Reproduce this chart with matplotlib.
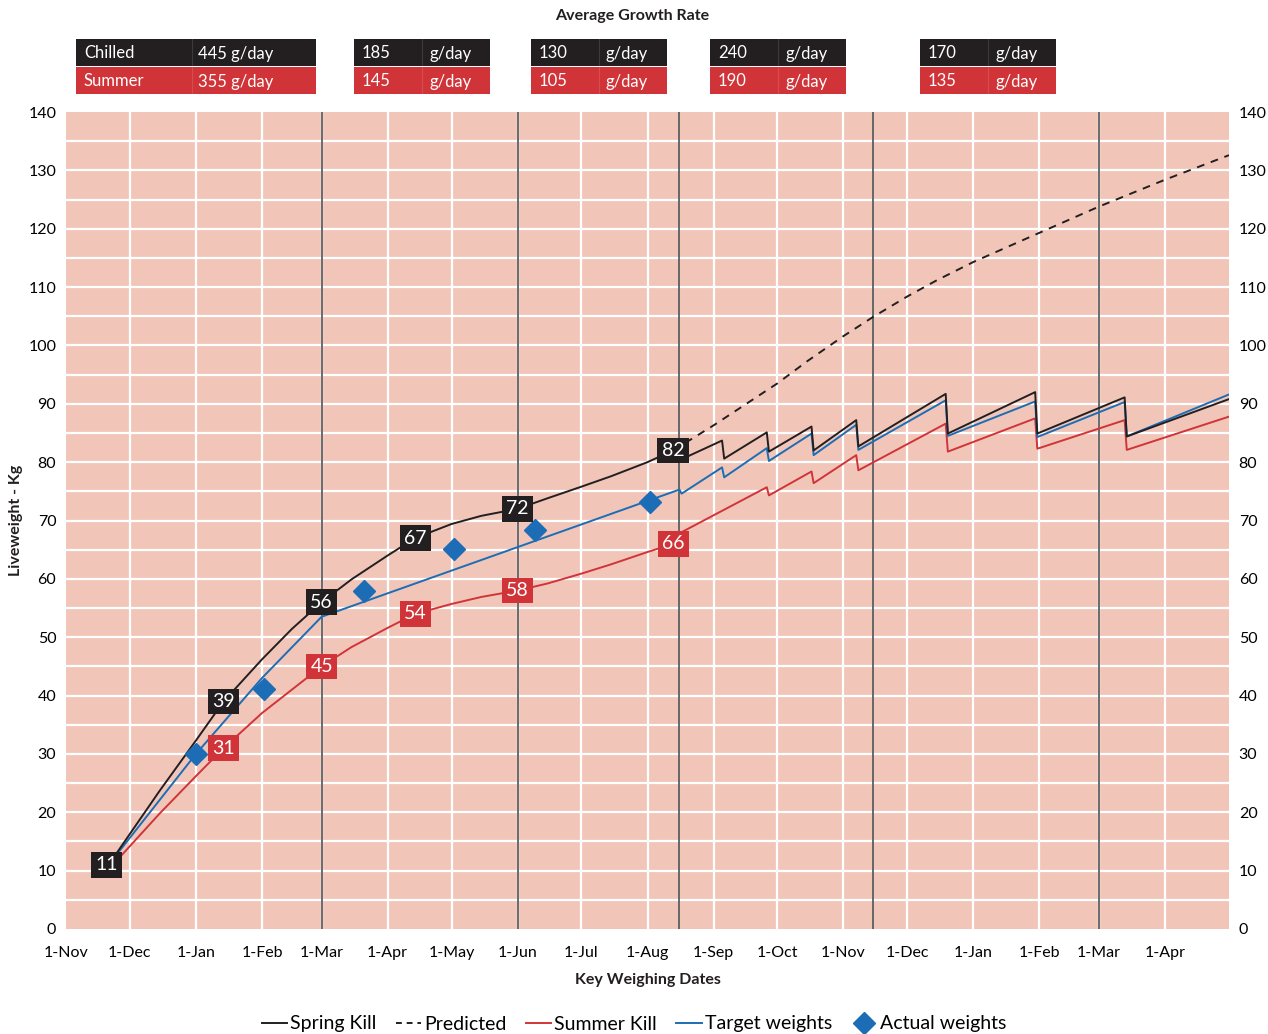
import matplotlib
matplotlib.use("Agg")
import matplotlib.pyplot as plt
import matplotlib.dates as mdates
import numpy as np
from matplotlib.lines import Line2D
from matplotlib.patches import Rectangle

plt.rcParams["font.family"] = ["Lato", "DejaVu Sans"]

BLACK = "#231f20"
RED = "#d13438"
BLUE = "#1c6db5"
BG = "#f1c6b9"
KEYLINE = "#5c5f62"

# Spring kill (chilled) liveweight, kg
spring_dates = ["2013-11-21", "2013-12-01", "2013-12-15", "2014-01-01", "2014-01-14",
                "2014-02-01", "2014-02-15", "2014-03-01", "2014-03-15", "2014-04-01",
                "2014-04-14", "2014-05-01", "2014-05-15", "2014-06-01", "2014-06-15",
                "2014-07-01", "2014-07-15", "2014-08-01", "2014-08-13", "2014-08-16",
                "2014-08-17", "2014-09-05", "2014-09-06", "2014-09-26", "2014-09-27",
                "2014-10-17", "2014-10-18", "2014-11-07", "2014-11-08", "2014-12-19",
                "2014-12-20", "2015-01-30", "2015-01-31", "2015-03-13", "2015-03-14",
                "2015-05-01"]
spring_kg = [11, 16.3, 23.7, 32.3, 39,
             46.2, 51.4, 56, 59.9, 64.0,
             67, 69.4, 70.8, 72, 73.8,
             75.8, 77.6, 80.0, 82, 82.6,
             80.5, 83.7, 80.6, 85.1, 81.8,
             86.1, 82.0, 87.2, 82.7, 91.7,
             84.9, 92.0, 84.9, 91.1, 84.4,
             90.8]

# Predicted spring kill continuation
pred_dates = ["2014-08-13", "2014-09-01", "2014-10-01", "2014-10-15", "2014-11-01",
              "2014-11-15", "2014-12-01", "2014-12-15", "2015-01-01", "2015-02-01",
              "2015-03-01", "2015-04-01", "2015-05-01"]
pred_kg = [82, 86.3, 93.5, 97.3, 101.6,
           104.9, 108.4, 111.2, 114.3, 119.3,
           123.8, 128.4, 132.6]

# Summer kill liveweight, kg
summer_dates = ["2013-11-23", "2013-12-01", "2013-12-15", "2014-01-01", "2014-01-14",
                "2014-02-01", "2014-02-15", "2014-03-01", "2014-03-15", "2014-04-01",
                "2014-04-14", "2014-05-01", "2014-05-15", "2014-06-01", "2014-06-15",
                "2014-07-01", "2014-07-15", "2014-08-01", "2014-08-13", "2014-08-17",
                "2014-09-26", "2014-09-27", "2014-10-17", "2014-10-18", "2014-11-07",
                "2014-11-08", "2014-12-19", "2014-12-20", "2015-01-30", "2015-01-31",
                "2015-03-13", "2015-03-14", "2015-05-01"]
summer_kg = [11, 14.2, 19.8, 26.2, 31,
             37.0, 41.0, 45, 48.3, 51.6,
             54, 55.7, 56.9, 58, 59.2,
             60.9, 62.5, 64.6, 66, 68,
             75.7, 74.3, 78.4, 76.4, 81.2,
             78.6, 86.6, 81.8, 87.5, 82.3,
             87.2, 82.1, 87.8]

# Target weights, kg
target_dates = ["2013-11-21", "2014-01-01", "2014-02-01", "2014-03-01", "2014-08-16",
                "2014-08-17", "2014-09-05", "2014-09-06", "2014-09-26", "2014-09-27",
                "2014-10-17", "2014-10-18", "2014-11-07", "2014-11-08", "2014-12-19",
                "2014-12-20", "2015-01-30", "2015-01-31", "2015-03-13", "2015-03-14",
                "2015-05-01"]
target_kg = [11, 30, 43, 53.5, 75.3,
             74.6, 79.1, 77.4, 82.4, 80.2,
             84.9, 81.2, 86.4, 82.1, 90.6,
             84.5, 90.4, 84.3, 90.3, 84.4,
             91.6]

# Actual weighings
actual_dates = ["2014-01-01", "2014-02-02", "2014-03-21", "2014-05-02", "2014-06-09", "2014-08-02"]
actual_kg = [30, 41.1, 58, 65.1, 68.3, 73.2]

# Labelled values at key weighing dates
key_dates = ["2013-11-20", "2014-01-14", "2014-03-01", "2014-04-14", "2014-06-01", "2014-08-13"]
spring_labels = [11, 39, 56, 67, 72, 82]
summer_key_dates = ["2014-01-14", "2014-03-01", "2014-04-14", "2014-06-01", "2014-08-13"]
summer_labels = [31, 45, 54, 58, 66]

# Period boundaries
period_lines = ["2014-03-01", "2014-06-01", "2014-08-16", "2014-11-15", "2015-03-01"]

# Average growth rate table (g/day)
chilled_rates = [445, 185, 130, 240, 170]
summer_rates = [355, 145, 105, 190, 135]


def d(values):
    return np.array(values, dtype="datetime64[D]")


fig = plt.figure(figsize=(12.68, 10.34), dpi=100)
W, H = 1268, 1034
ax = fig.add_axes([66 / W, 1 - 929 / H, (1229 - 66) / W, (929 - 112) / H])
ax.set_facecolor(BG)
for s in ax.spines.values():
    s.set_visible(False)

x0, x1 = np.datetime64("2013-11-01"), np.datetime64("2015-05-01")
ax.set_xlim(x0, x1)
ax.set_ylim(0, 140)

# white grid
for y in range(5, 140, 5):
    ax.axhline(y, color="white", lw=1.6, zorder=1)
months = np.arange(np.datetime64("2013-11"), np.datetime64("2015-05"), dtype="datetime64[M]").astype("datetime64[D]")
for m in months[1:]:
    ax.axvline(m, color="white", lw=1.6, zorder=1)
for p in d(period_lines):
    ax.axvline(p, color=KEYLINE, lw=1.3, zorder=2)

ax.plot(d(pred_dates), pred_kg, color=BLACK, lw=1.4, ls=(0, (4, 3.5)), zorder=3)
ax.plot(d(summer_dates), summer_kg, color=RED, lw=1.4, zorder=3)
ax.plot(d(target_dates), target_kg, color=BLUE, lw=1.4, zorder=3)
ax.plot(d(spring_dates), spring_kg, color=BLACK, lw=1.4, zorder=3)
ax.plot(d(actual_dates), actual_kg, ls="none", marker="D", ms=11, color=BLUE, zorder=4)

for xd, v in zip(d(key_dates), spring_labels):
    ax.text(xd, v, str(v), color="white", fontsize=14, ha="center", va="center", zorder=6,
            bbox=dict(boxstyle="square,pad=0.22", fc=BLACK, ec="none"))
for xd, v in zip(d(summer_key_dates), summer_labels):
    ax.text(xd, v, str(v), color="white", fontsize=14, ha="center", va="center", zorder=6,
            bbox=dict(boxstyle="square,pad=0.22", fc=RED, ec="none"))

ax.set_yticks(np.arange(0, 141, 10))
ax.tick_params(axis="y", length=0, labelsize=11.5, labelleft=True, labelright=True, pad=7)
ax.set_xticks(months)
ax.xaxis.set_major_formatter(mdates.DateFormatter("1-%b"))
ax.tick_params(axis="x", length=0, labelsize=11.5, pad=12)

fig.text(16 / W, 1 - 520 / H, "Liveweight - Kg", rotation=90, ha="center", va="center",
         fontsize=11.5, fontweight="bold", color=BLACK)
fig.text(648 / W, 1 - 980 / H, "Key Weighing Dates", ha="center", va="center",
         fontsize=11.5, fontweight="bold", color=BLACK)
fig.text(632 / W, 1 - 16 / H, "Average Growth Rate", ha="center", va="center",
         fontsize=11.5, fontweight="bold", color=BLACK)

# growth rate boxes
boxes = [(76, 316), (354, 490), (531, 667), (710, 846), (920, 1056)]
row_top, row_mid, row_bot = 39, 66.5, 94
for i, (bl, br) in enumerate(boxes):
    for top, bot, col, rates, name in [(row_top, row_mid - 0.5, BLACK, chilled_rates, "Chilled"),
                                       (row_mid + 0.5, row_bot, RED, summer_rates, "Summer")]:
        fig.add_artist(Rectangle((bl / W, 1 - bot / H), (br - bl) / W, (bot - top) / H,
                                 transform=fig.transFigure, fc=col, ec="none"))
        yc = 1 - ((top + bot) / 2 + 1) / H
        if i == 0:
            fig.text((bl + 8) / W, yc, name, color="white", fontsize=12, va="center")
            fig.text((bl + 122) / W, yc, f"{rates[i]} g/day", color="white", fontsize=12, va="center")
            div = bl + 116
        else:
            fig.text((bl + 8) / W, yc, str(rates[i]), color="white", fontsize=12, va="center")
            fig.text((bl + 75) / W, yc, "g/day", color="white", fontsize=12, va="center")
            div = (bl + br) / 2
        fig.add_artist(Line2D([div / W, div / W], [1 - bot / H, 1 - top / H], transform=fig.transFigure,
                              color="white", alpha=0.12, lw=0.8))

handles = [Line2D([], [], color=BLACK, lw=1.4),
           Line2D([], [], color=BLACK, lw=1.4, ls=(0, (3, 2.5))),
           Line2D([], [], color=RED, lw=1.4),
           Line2D([], [], color=BLUE, lw=1.4),
           Line2D([], [], ls="none", marker="D", ms=11, color=BLUE)]
labels = ["Spring Kill", "Predicted", "Summer Kill", "Target weights", "Actual weights"]
fig.legend(handles, labels, loc="center", bbox_to_anchor=(0.5, 1 - 1024 / H), ncol=5,
           frameon=False, fontsize=14, handlelength=1.3, handletextpad=0.15, columnspacing=1.0)

fig.savefig("out.png", dpi=100)
